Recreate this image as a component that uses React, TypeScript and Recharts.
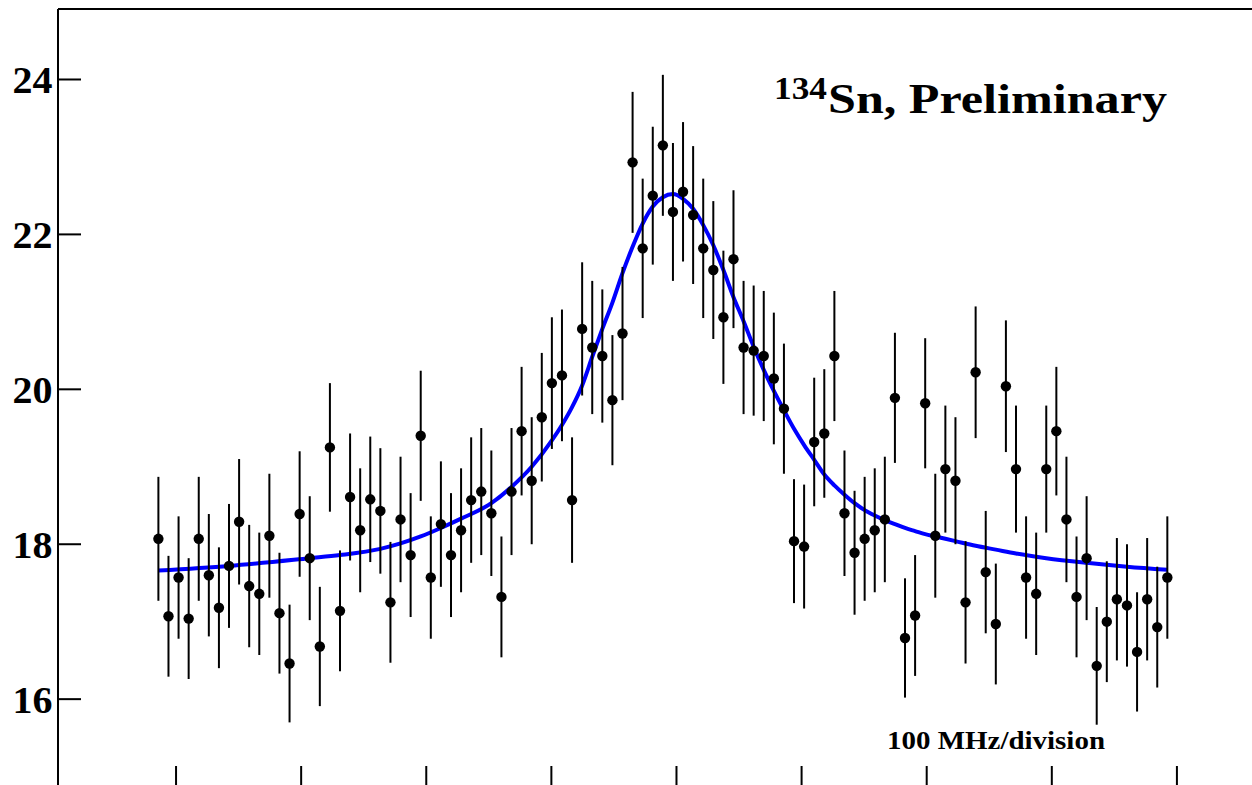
import React from "react";
import {
  ComposedChart,
  Scatter,
  Line,
  XAxis,
  YAxis,
  ErrorBar,
  ReferenceLine,
} from "recharts";

// channel index of each measured point (0..100)
const CHANNELS: number[] = Array.from({ length: 101 }, (_, i) => i);

// measured counts (arbitrary units) per channel
const COUNTS: number[] = [
  18.07, 17.07, 17.57, 17.04, 18.07, 17.6, 17.18, 17.72, 18.29, 17.46,
  17.36, 18.11, 17.11, 16.46, 18.39, 17.82, 16.68, 19.25, 17.14, 18.61,
  18.18, 18.58, 18.43, 17.25, 18.32, 17.86, 19.4, 17.57, 18.26, 17.86,
  18.18, 18.57, 18.68, 18.4, 17.32, 18.68, 19.46, 18.82, 19.64, 20.08,
  20.18, 18.57, 20.78, 20.54, 20.43, 19.86, 20.72, 22.93, 21.82, 22.5,
  23.15, 22.29, 22.55, 22.25, 21.82, 21.54, 20.93, 21.68, 20.54, 20.5,
  20.43, 20.14, 19.75, 18.04, 17.97, 19.32, 19.43, 20.43, 18.4, 17.89,
  18.07, 18.18, 18.32, 19.89, 16.79, 17.08, 19.82, 18.11, 18.97, 18.82,
  17.25, 20.22, 17.64, 16.97, 20.04, 18.97, 17.57, 17.36, 18.97, 19.46,
  18.32, 17.32, 17.82, 16.43, 17.0, 17.29, 17.21, 16.61, 17.29, 16.93,
  17.57,
];

// symmetric statistical uncertainty per channel
const ERRORS: number[] = [
  0.8, 0.78, 0.79, 0.78, 0.8, 0.79, 0.78, 0.8, 0.81, 0.79,
  0.79, 0.8, 0.78, 0.76, 0.81, 0.8, 0.77, 0.83, 0.78, 0.82,
  0.8, 0.81, 0.81, 0.78, 0.81, 0.8, 0.84, 0.79, 0.81, 0.8,
  0.8, 0.81, 0.82, 0.81, 0.78, 0.82, 0.83, 0.82, 0.83, 0.85,
  0.85, 0.81, 0.86, 0.86, 0.86, 0.84, 0.86, 0.91, 0.9, 0.89,
  0.91, 0.89, 0.9, 0.89, 0.9, 0.89, 0.86, 0.89, 0.86, 0.84,
  0.84, 0.85, 0.84, 0.8, 0.8, 0.83, 0.83, 0.84, 0.81, 0.8,
  0.8, 0.8, 0.81, 0.84, 0.77, 0.78, 0.84, 0.8, 0.82, 0.82,
  0.79, 0.85, 0.79, 0.78, 0.85, 0.82, 0.79, 0.79, 0.82, 0.83,
  0.81, 0.78, 0.8, 0.76, 0.78, 0.79, 0.79, 0.77, 0.79, 0.78,
  0.79,
];

// fitted curve at these channels
const FIT_CHANNELS: number[] = [
  0, 7, 15, 18, 22, 24, 26, 28, 30, 33, 35, 37, 39, 40, 41, 42, 43, 44, 45,
  46, 47, 48, 49, 50, 51, 52, 53, 54, 55, 56, 57, 58, 59, 60, 61, 62, 63, 64,
  65, 66, 67, 68, 69, 70, 71, 72, 73, 74, 75, 76, 77, 79, 81, 83, 85, 88, 92,
  96, 100,
];
const FIT_VALUES: number[] = [
  17.66, 17.72, 17.82, 17.86, 17.94, 18.01, 18.1, 18.21, 18.33, 18.53, 18.74,
  19.0, 19.34, 19.54, 19.77, 20.05, 20.42, 20.78, 21.12, 21.5, 21.84, 22.14,
  22.36, 22.48, 22.52, 22.46, 22.33, 22.12, 21.86, 21.54, 21.19, 20.88, 20.55,
  20.25, 19.98, 19.73, 19.49, 19.28, 19.09, 18.9, 18.76, 18.64, 18.53, 18.44,
  18.37, 18.31, 18.26, 18.21, 18.17, 18.13, 18.1, 18.04, 17.98, 17.93, 17.88,
  17.82, 17.76, 17.71, 17.67,
];

// axis ticks
const Y_TICKS: number[] = [16, 18, 20, 22, 24];
// 100 MHz divisions expressed in channel units
const X_TICKS: number[] = [1.75, 14.15, 26.55, 38.95, 51.35, 63.75, 76.15, 88.55, 100.95];

const Y_DOMAIN: [number, number] = [14.84, 24.91];
const X_DOMAIN: [number, number] = [-9.95, 113.05];

const points = CHANNELS.map((c, i) => ({ x: c, y: COUNTS[i], err: ERRORS[i] }));
const fit = FIT_CHANNELS.map((c, i) => ({ x: c, y: FIT_VALUES[i] }));

const SERIF = "'Liberation Serif', 'Times New Roman', serif";

const YTick = (props: any) => {
  const { x, y, payload } = props;
  return (
    <g>
      <line x1={x} y1={y} x2={x + 23} y2={y} stroke="#000" strokeWidth={2} />
      <text
        x={x - 5.5}
        y={y + 13.4}
        textAnchor="end"
        fontFamily={SERIF}
        fontWeight="bold"
        fontSize={37}
        fill="#000"
        textLength={40}
        lengthAdjust="spacingAndGlyphs"
      >
        {payload.value}
      </text>
    </g>
  );
};

const XTick = (props: any) => {
  const { x, y } = props;
  return <line x1={x} y1={y} x2={x} y2={y - 23} stroke="#000" strokeWidth={2} />;
};

const Dot = (props: any) => {
  const { cx, cy } = props;
  if (cx == null || cy == null) return null;
  return <circle cx={cx} cy={cy} r={5.2} fill="#000" />;
};

export default function App() {
  return (
    <div
      style={{
        position: "absolute",
        left: 0,
        top: 0,
        width: 1252,
        height: 785,
        overflow: "hidden",
        background: "#fff",
      }}
    >
      <ComposedChart
        width={1300}
        height={800}
        margin={{ top: 9, right: 1, bottom: 0, left: 0 }}
      >
        <XAxis
          xAxisId={0}
          type="number"
          dataKey="x"
          domain={X_DOMAIN}
          allowDataOverflow
          ticks={X_TICKS}
          interval={0}
          height={11}
          tickSize={0}
          tickMargin={0}
          tickLine={false}
          axisLine={{ stroke: "#000", strokeWidth: 2 }}
          tick={<XTick />}
        />
        <YAxis
          yAxisId={0}
          type="number"
          dataKey="y"
          domain={Y_DOMAIN}
          allowDataOverflow
          ticks={Y_TICKS}
          interval={0}
          width={58}
          tickSize={0}
          tickMargin={0}
          tickLine={false}
          axisLine={{ stroke: "#000", strokeWidth: 2 }}
          tick={<YTick />}
        />
        <ReferenceLine y={Y_DOMAIN[1]} stroke="#000" strokeWidth={2} ifOverflow="visible" />
        <Line
          data={fit}
          dataKey="y"
          type="monotone"
          stroke="#0000ff"
          strokeWidth={4}
          dot={false}
          activeDot={false}
          isAnimationActive={false}
        />
        <Scatter data={points} dataKey="y" shape={<Dot />} isAnimationActive={false}>
          <ErrorBar
            dataKey="err"
            direction="y"
            width={0}
            stroke="#000"
            strokeWidth={2}
            isAnimationActive={false}
          />
        </Scatter>
      </ComposedChart>
      <svg
        width={1252}
        height={785}
        style={{ position: "absolute", left: 0, top: 0, pointerEvents: "none" }}
      >
        <text
          x={774}
          y={99}
          fontFamily={SERIF}
          fontWeight="bold"
          fontSize={31}
          fill="#000"
          textLength={53}
          lengthAdjust="spacingAndGlyphs"
        >
          134
        </text>
        <text
          x={828}
          y={113}
          fontFamily={SERIF}
          fontWeight="bold"
          fontSize={42}
          fill="#000"
          textLength={339}
          lengthAdjust="spacingAndGlyphs"
        >
          Sn, Preliminary
        </text>
        <text
          x={887}
          y={749}
          fontFamily={SERIF}
          fontWeight="bold"
          fontSize={26}
          fill="#000"
          textLength={218}
          lengthAdjust="spacingAndGlyphs"
        >
          100 MHz/division
        </text>
      </svg>
    </div>
  );
}
